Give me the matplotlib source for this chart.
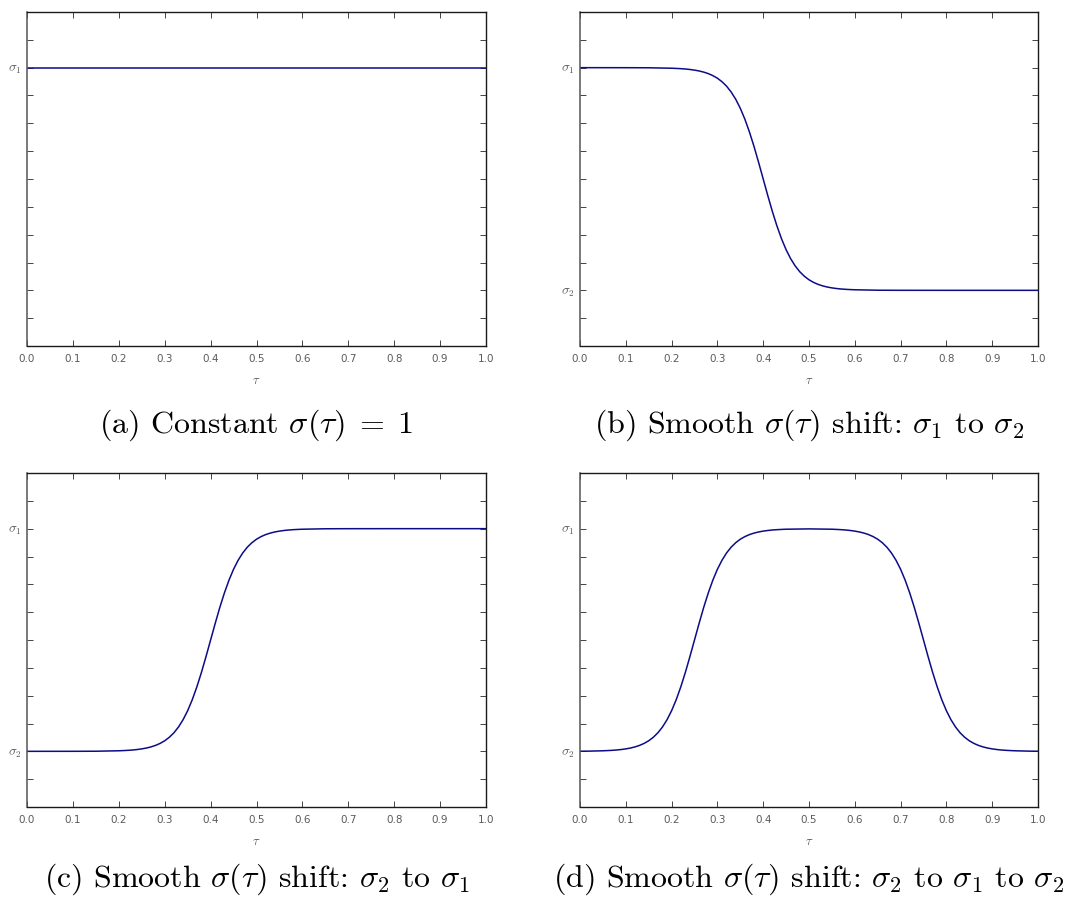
import matplotlib
matplotlib.use("Agg")
import matplotlib.pyplot as plt
from matplotlib.ticker import FixedLocator, FixedFormatter

plt.rcParams["mathtext.fontset"] = "cm"

W, H = 1065, 899
DPI = 100

# sigma levels (axis units)
SIGMA1 = 1.0
SIGMA2 = 0.2

# (a) constant sigma
tau_a = [0.0, 1.0]
sig_a = [1.0, 1.0]

# (b) smooth drop sigma1 -> sigma2 around tau = 0.4
tau_b = [0.0, 0.1, 0.15,
         0.20, 0.21, 0.22, 0.23, 0.24, 0.25, 0.26, 0.27, 0.28, 0.29,
         0.30, 0.31, 0.32, 0.33, 0.34, 0.35, 0.36, 0.37, 0.38, 0.39,
         0.40, 0.41, 0.42, 0.43, 0.44, 0.45, 0.46, 0.47, 0.48, 0.49,
         0.50, 0.51, 0.52, 0.53, 0.54, 0.55, 0.56, 0.57, 0.58, 0.59,
         0.60, 0.65, 0.7, 0.8, 0.9, 1.0]
sig_b = [1.0000, 0.9999, 0.9996,
         0.9980, 0.9973, 0.9964, 0.9952, 0.9935, 0.9912, 0.9882, 0.9841, 0.9787, 0.9715,
         0.9621, 0.9496, 0.9335, 0.9127, 0.8865, 0.8541, 0.8148, 0.7687, 0.7166, 0.6595,
         0.6000, 0.5405, 0.4834, 0.4313, 0.3852, 0.3459, 0.3135, 0.2873, 0.2665, 0.2504,
         0.2379, 0.2285, 0.2213, 0.2159, 0.2118, 0.2088, 0.2065, 0.2048, 0.2036, 0.2027,
         0.2020, 0.2004, 0.2001, 0.2000, 0.2000, 0.2000]

# (c) smooth rise sigma2 -> sigma1 around tau = 0.4
tau_c = [0.0, 0.1, 0.15,
         0.20, 0.21, 0.22, 0.23, 0.24, 0.25, 0.26, 0.27, 0.28, 0.29,
         0.30, 0.31, 0.32, 0.33, 0.34, 0.35, 0.36, 0.37, 0.38, 0.39,
         0.40, 0.41, 0.42, 0.43, 0.44, 0.45, 0.46, 0.47, 0.48, 0.49,
         0.50, 0.51, 0.52, 0.53, 0.54, 0.55, 0.56, 0.57, 0.58, 0.59,
         0.60, 0.65, 0.7, 0.8, 0.9, 1.0]
sig_c = [0.2000, 0.2001, 0.2004,
         0.2020, 0.2027, 0.2036, 0.2048, 0.2065, 0.2088, 0.2118, 0.2159, 0.2213, 0.2285,
         0.2379, 0.2504, 0.2665, 0.2873, 0.3135, 0.3459, 0.3852, 0.4313, 0.4834, 0.5405,
         0.6000, 0.6595, 0.7166, 0.7687, 0.8148, 0.8541, 0.8865, 0.9127, 0.9335, 0.9496,
         0.9621, 0.9715, 0.9787, 0.9841, 0.9882, 0.9912, 0.9935, 0.9952, 0.9964, 0.9973,
         0.9980, 0.9996, 0.9999, 1.0000, 1.0000, 1.0000]

# (d) rise around tau = 0.25, fall around tau = 0.75
tau_d = [0.0, 0.02,
         0.05, 0.06, 0.07, 0.08, 0.09, 0.10, 0.11, 0.12, 0.13, 0.14,
         0.15, 0.16, 0.17, 0.18, 0.19, 0.20, 0.21, 0.22, 0.23, 0.24,
         0.25, 0.26, 0.27, 0.28, 0.29, 0.30, 0.31, 0.32, 0.33, 0.34,
         0.35, 0.36, 0.37, 0.38, 0.39, 0.40, 0.41, 0.42, 0.43, 0.44,
         0.45, 0.50, 0.55,
         0.56, 0.57, 0.58, 0.59, 0.60, 0.61, 0.62, 0.63, 0.64, 0.65,
         0.66, 0.67, 0.68, 0.69, 0.70, 0.71, 0.72, 0.73, 0.74, 0.75,
         0.76, 0.77, 0.78, 0.79, 0.80, 0.81, 0.82, 0.83, 0.84, 0.85,
         0.86, 0.87, 0.88, 0.89, 0.90, 0.91, 0.92, 0.93, 0.94, 0.95,
         0.98, 1.0]
sig_d = [0.2004, 0.2007,
         0.2020, 0.2027, 0.2036, 0.2048, 0.2065, 0.2088, 0.2118, 0.2159, 0.2213, 0.2285,
         0.2379, 0.2504, 0.2665, 0.2873, 0.3135, 0.3459, 0.3852, 0.4313, 0.4834, 0.5405,
         0.6000, 0.6595, 0.7166, 0.7687, 0.8148, 0.8541, 0.8865, 0.9127, 0.9335, 0.9496,
         0.9621, 0.9715, 0.9787, 0.9841, 0.9882, 0.9912, 0.9935, 0.9952, 0.9964, 0.9973,
         0.9980, 0.9992, 0.9980,
         0.9973, 0.9964, 0.9952, 0.9935, 0.9912, 0.9882, 0.9841, 0.9787, 0.9715, 0.9621,
         0.9496, 0.9335, 0.9127, 0.8865, 0.8541, 0.8148, 0.7687, 0.7166, 0.6595, 0.6000,
         0.5405, 0.4834, 0.4313, 0.3852, 0.3459, 0.3135, 0.2873, 0.2665, 0.2504, 0.2379,
         0.2285, 0.2213, 0.2159, 0.2118, 0.2088, 0.2065, 0.2048, 0.2036, 0.2027, 0.2020,
         0.2007, 0.2004]

x_ticks = [0.0, 0.1, 0.2, 0.3, 0.4, 0.5, 0.6, 0.7, 0.8, 0.9, 1.0]
x_tick_labels = ["0.0", "0.1", "0.2", "0.3", "0.4", "0.5", "0.6", "0.7", "0.8", "0.9", "1.0"]
y_ticks = [0.1, 0.2, 0.3, 0.4, 0.5, 0.6, 0.7, 0.8, 0.9, 1.0, 1.1]

captions = [
    r"(a) Constant $\sigma(\tau)\;=\;1$",
    r"(b) Smooth $\sigma(\tau)$ shift: $\sigma_1$ to $\sigma_2$",
    r"(c) Smooth $\sigma(\tau)$ shift: $\sigma_2$ to $\sigma_1$",
    r"(d) Smooth $\sigma(\tau)$ shift: $\sigma_2$ to $\sigma_1$ to $\sigma_2$",
]
series = [(tau_a, sig_a), (tau_b, sig_b), (tau_c, sig_c), (tau_d, sig_d)]

# panel boxes in pixels: left, right, top, bottom
boxes = [(27, 486, 12, 346), (580, 1038, 12, 346),
         (27, 486, 473, 807), (580, 1038, 473, 807)]
caption_y = [425, 425, 879, 879]

fig = plt.figure(figsize=(W / DPI, H / DPI), dpi=DPI)
fig.patch.set_facecolor("white")

LINE = "#0c0c88"
TICKC = "#5a5a5a"

for i, ((l, r, t, b), (tx, sy)) in enumerate(zip(boxes, series)):
    ax = fig.add_axes([l / W, 1 - b / H, (r - l) / W, (b - t) / H])
    ax.plot(tx, sy, color=LINE, lw=1.1, solid_capstyle="butt")
    ax.set_xlim(0, 1)
    ax.set_ylim(0, 1.2)

    ax.xaxis.set_major_locator(FixedLocator(x_ticks))
    ax.xaxis.set_major_formatter(FixedFormatter(x_tick_labels))
    ylabels = []
    for v in y_ticks:
        if abs(v - SIGMA1) < 1e-9:
            ylabels.append(r"$\sigma_1$")
        elif abs(v - SIGMA2) < 1e-9 and i > 0:
            ylabels.append(r"$\sigma_2$")
        else:
            ylabels.append("")
    ax.yaxis.set_major_locator(FixedLocator(y_ticks))
    ax.yaxis.set_major_formatter(FixedFormatter(ylabels))

    ax.tick_params(direction="in", length=4, width=0.7, color="#444444",
                   top=True, right=True, labelcolor=TICKC)
    ax.tick_params(axis="x", labelsize=7.5, pad=6)
    ax.tick_params(axis="y", labelsize=9.5, pad=4)
    for name, s in ax.spines.items():
        s.set_color("#555555" if name == "left" else "#1a1a1a")
        s.set_linewidth(1.1 if name == "left" else 1.0)

    ax.set_xlabel(r"$\tau$", fontsize=9, color=TICKC, labelpad=7)

    fig.text((l + r) / 2 / W, 1 - caption_y[i] / H, captions[i],
             ha="center", va="center", fontsize=23, family="cmr10")

fig.savefig("out.png", dpi=DPI)
